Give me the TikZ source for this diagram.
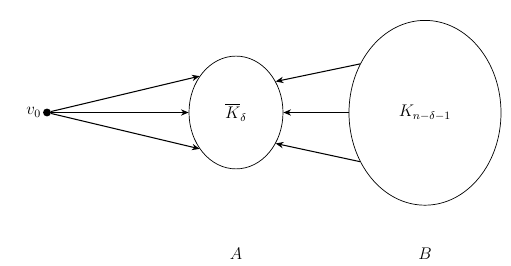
\documentclass[tikz,border=0pt]{standalone}
\usepackage{amsmath}
\usepackage{tikz}
\usetikzlibrary{shapes.geometric, arrows.meta, positioning}

\begin{document}
\begin{tikzpicture}[>={Stealth[length=5.5pt,width=4.5pt]}, every node/.style={font=\large}]
  \tikzstyle{set}=[ellipse, draw, line width=0.5pt, inner sep=0pt]
  \tikzstyle{vtx}=[circle, fill, inner sep=0pt, minimum size=5.6pt]
  \tikzstyle{arr}=[->, line width=0.75pt]
  \useasboundingbox (0,0) rectangle (12.775,6.65);
  \node[vtx, label={[inner sep=1pt]left:$v_0$}](v0) at (1.175,3.8375){};
  \node[set, minimum width=2.35cm, minimum height=2.82cm](Kd) at (5.9,3.8375){$\overline{K}_\delta$};
  \node[set, minimum width=3.8cm, minimum height=4.62cm](Kn) at (10.625,3.83){$K_{n-\delta-1}$};
  \draw[arr](v0)--(Kd.135);
  \draw[arr](v0)--(Kd.180);
  \draw[arr](v0)--(Kd.225);
  \draw[arr](Kn.143)--(Kd.38);
  \draw[arr](Kn.west |- Kd.east)--(Kd.0);
  \draw[arr](Kn.217)--(Kd.322);
  \node(A) at (5.9,0.3){$A$};
  \node(B) at (10.625,0.3){$B$};
\end{tikzpicture}
\end{document}
